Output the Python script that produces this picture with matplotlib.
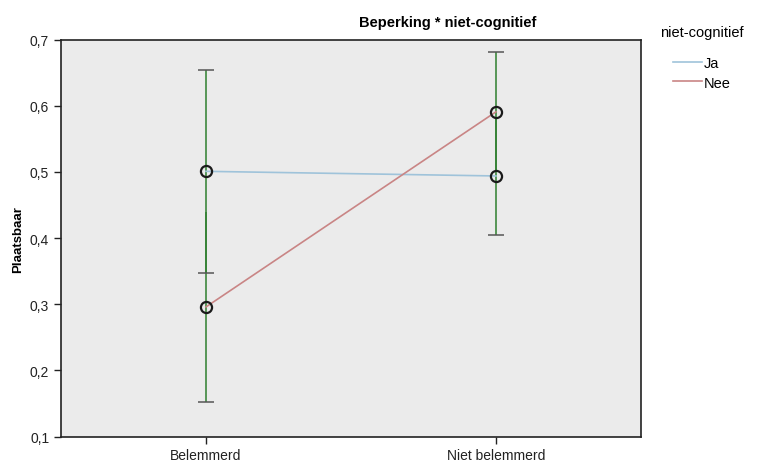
import numpy as np
import matplotlib.pyplot as plt
from matplotlib.ticker import FuncFormatter

categories = ['Belemmerd', 'Niet belemmerd']
ja_mean = [0.501, 0.494]
ja_err = [0.153, 0.089]
nee_mean = [0.296, 0.591]
nee_err = [0.144, 0.091]
yticks = [0.1, 0.2, 0.3, 0.4, 0.5, 0.6, 0.7]

plt.rcParams['font.family'] = ['Liberation Sans', 'DejaVu Sans']

fig = plt.figure(figsize=(7.68, 4.64), dpi=100)
ax = fig.add_axes([0.0794, 0.0569, 0.7552, 0.8554])
ax.set_facecolor('#ebebeb')

xpos = np.arange(len(categories))
ja_m, ja_e = np.array(ja_mean), np.array(ja_err)
nee_m, nee_e = np.array(nee_mean), np.array(nee_err)

# error bars (overlapping caps inside the other bar are hidden in the original)
ax.errorbar(xpos, ja_m, yerr=ja_e, fmt='none', ecolor='#2f7f2f', elinewidth=1.1, capsize=0, zorder=2)
ax.errorbar(xpos, nee_m, yerr=nee_e, fmt='none', ecolor='#2f7f2f', elinewidth=1.1, capsize=0, zorder=2)
cap_kw = dict(ls='none', marker='_', ms=12, mew=1.1, color='#555555', zorder=2)
ax.plot(xpos, ja_m - ja_e, **cap_kw)
ax.plot(xpos[:1], (ja_m + ja_e)[:1], **cap_kw)
ax.plot(xpos[:1], (nee_m - nee_e)[:1], **cap_kw)
ax.plot(xpos[1:], (nee_m + nee_e)[1:], **cap_kw)

ax.plot(xpos, ja_mean, color='#9fc3da', lw=1.2, label='Ja', zorder=3)
ax.plot(xpos, nee_mean, color='#c98585', lw=1.2, label='Nee', zorder=3)
ax.plot(xpos, ja_mean, 'o', mfc='none', mec='#1a1a1a', mew=1.6, ms=8, zorder=4)
ax.plot(xpos, nee_mean, 'o', mfc='none', mec='#1a1a1a', mew=1.6, ms=8, zorder=4)

ax.set_xlim(-0.5, 1.5)
ax.set_ylim(0.1, 0.7)
ax.set_xticks(xpos)
ax.set_xticklabels(categories, fontsize=9.5)
ax.set_yticks(yticks)
ax.yaxis.set_major_formatter(FuncFormatter(lambda v, p: ('%.1f' % v).replace('.', ',')))
ax.tick_params(axis='both', direction='out', length=5, width=1, labelsize=10, colors='#222222')
for s in ax.spines.values():
    s.set_linewidth(1.2)
    s.set_color('#222222')

ax.set_ylabel('Plaatsbaar', fontsize=9.5, fontweight='bold', labelpad=4)

fig.text(448 / 768, 1 - 23 / 464, 'Beperking * niet-cognitief', ha='center', va='center',
         fontsize=10.5, fontweight='bold')

leg = ax.legend(loc='upper left', bbox_to_anchor=(1.01, 1.07), frameon=False,
                title='niet-cognitief', fontsize=10.5, title_fontsize=10.5,
                handlelength=2.0, handletextpad=0.15, labelspacing=0.4, alignment='center')
leg._legend_box.sep = 12

fig.savefig('out.png', dpi=100)
